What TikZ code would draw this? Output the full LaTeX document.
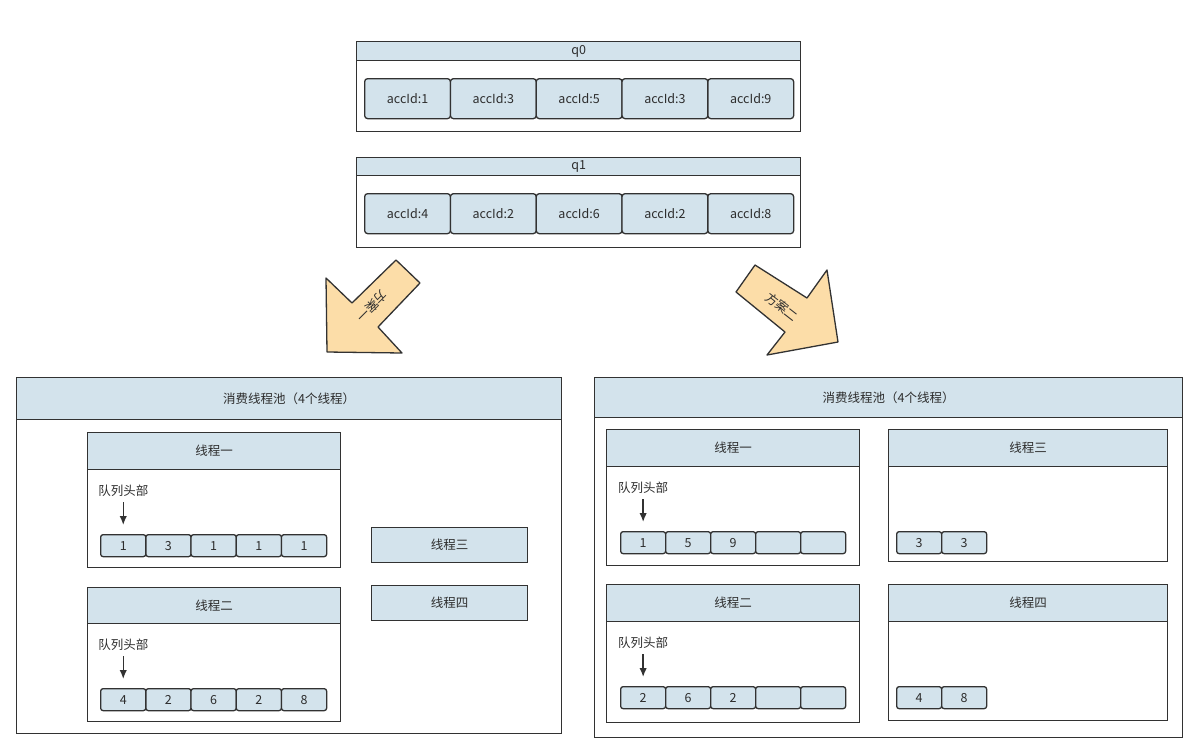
\documentclass[tikz,border=0pt]{standalone}
\usepackage{fontspec}
\setmainfont{Noto Sans CJK SC}
\usetikzlibrary{positioning,arrows.meta}

\definecolor{boxblue}{RGB}{211,227,236}
\definecolor{arrfill}{RGB}{252,221,168}
\definecolor{edge}{RGB}{50,50,50}
\definecolor{txt}{RGB}{45,45,45}

\tikzset{
  frame/.style={draw=edge, line width=1.3pt, anchor=north west, inner sep=0pt},
  hdr/.style={frame, fill=boxblue, text=txt, font=\fontsize{12.5}{14}\selectfont},
  cell/.style={hdr, rounded corners=2.5pt, minimum width=45pt, minimum height=22pt},
  qcell/.style={hdr, rounded corners=3pt, minimum width=85.8pt, minimum height=40pt},
  headlbl/.style={inner sep=0pt, text=txt, font=\fontsize{12.5}{14}\selectfont},
  headarr/.style={-{Latex[length=9pt,width=7.5pt]}, line width=1.5pt, draw=edge,
    shorten <=5pt, shorten >=9pt},
  bigarr/.style={draw=edge, line width=1.3pt, fill=arrfill, line join=round},
}

\begin{document}
\begin{tikzpicture}[x=1pt, y=-1pt]
    \useasboundingbox (0,0) rectangle (1203,748);

    % Queue q0
    \node[frame, minimum width=444pt, minimum height=90pt] (q0) at (356,41) {};
    \node[hdr, minimum width=444pt, minimum height=19pt] (q0h) at (356,41) {q0};
    \foreach \v [count=\i from 0] in {1,3,5,3,9}
        \node[qcell] (q0c\i) at ({364+85.8*\i},78) {accId:\v};

    % Queue q1
    \node[frame, minimum width=444pt, minimum height=90pt] (q1) at (356,157) {};
    \node[hdr, minimum width=444pt, minimum height=18pt] (q1h) at (356,157) {q1};
    \foreach \v [count=\i from 0] in {4,2,6,2,8}
        \node[qcell] (q1c\i) at ({364+85.8*\i},193) {accId:\v};

    % Plan arrows
    \draw[bigarr] (396,260) -- (420,283) -- (378,327) -- (402,353) -- (327,352)
        -- (326,278) -- (352,303) -- cycle;
    \node[headlbl, rotate=-135] (plan1) at (372,306) {方案一};
    \draw[bigarr] (755,265) -- (807,298) -- (827,270) -- (838,342) -- (767,355)
        -- (785,332) -- (736,292) -- cycle;
    \node[headlbl, rotate=-38] (plan2) at (782,307) {方案二};

    % Left pool (plan one)
    \node[frame, minimum width=545pt, minimum height=356pt] (lpool) at (16,377) {};
    \node[hdr, minimum width=545pt, minimum height=42pt] (lpoolh) at (16,377) {消费线程池（4个线程）};

    % thread one
    \node[frame, minimum width=253pt, minimum height=135pt] (lt1) at (87,432) {};
    \node[hdr, minimum width=253pt, minimum height=37pt] (lt1h) at (87,432) {线程一};
    \foreach \v [count=\i from 0] in {1,3,1,1,1}
        \node[cell, minimum width=45.2pt] (la\i) at ({100+45.2*\i},534) {\v};
    \node[headlbl, above=37pt of la0.north] (lq1) {队列头部};
    \draw[headarr] (lq1) -- (la0);

    % thread two
    \node[frame, minimum width=253pt, minimum height=134pt] (lt2) at (87,587) {};
    \node[hdr, minimum width=253pt, minimum height=36pt] (lt2h) at (87,587) {线程二};
    \foreach \v [count=\i from 0] in {4,2,6,2,8}
        \node[cell, minimum width=45.2pt] (lb\i) at ({100+45.2*\i},688) {\v};
    \node[headlbl, above=37pt of lb0.north] (lq2) {队列头部};
    \draw[headarr] (lq2) -- (lb0);

    % threads three and four
    \node[hdr, minimum width=156pt, minimum height=35pt] (lt3) at (371,527) {线程三};
    \node[hdr, minimum width=156pt, minimum height=35pt] (lt4) at (371,585) {线程四};

    % Right pool (plan two)
    \node[frame, minimum width=588pt, minimum height=360pt] (rpool) at (594,377) {};
    \node[hdr, minimum width=588pt, minimum height=40pt] (rpoolh) at (594,377) {消费线程池（4个线程）};

    % thread one
    \node[frame, minimum width=253pt, minimum height=136pt] (rt1) at (606,429) {};
    \node[hdr, minimum width=253pt, minimum height=37pt] (rt1h) at (606,429) {线程一};
    \foreach \v [count=\i from 0] in {1,5,9,{},{}}
        \node[cell] (ra\i) at ({620+45*\i},531) {\v};
    \node[headlbl, above=37pt of ra0.north] (rq1) {队列头部};
    \draw[headarr] (rq1) -- (ra0);

    % thread two
    \node[frame, minimum width=253pt, minimum height=138pt] (rt2) at (606,584) {};
    \node[hdr, minimum width=253pt, minimum height=37pt] (rt2h) at (606,584) {线程二};
    \foreach \v [count=\i from 0] in {2,6,2,{},{}}
        \node[cell] (rb\i) at ({620+45*\i},686) {\v};
    \node[headlbl, above=37pt of rb0.north] (rq2) {队列头部};
    \draw[headarr] (rq2) -- (rb0);

    % thread three
    \node[frame, minimum width=279pt, minimum height=132pt] (rt3) at (888,429) {};
    \node[hdr, minimum width=279pt, minimum height=37pt] (rt3h) at (888,429) {线程三};
    \foreach \v [count=\i from 0] in {3,3}
        \node[cell] (rc\i) at ({896+45*\i},531) {\v};

    % thread four
    \node[frame, minimum width=279pt, minimum height=136pt] (rt4) at (888,584) {};
    \node[hdr, minimum width=279pt, minimum height=37pt] (rt4h) at (888,584) {线程四};
    \foreach \v [count=\i from 0] in {4,8}
        \node[cell] (rd\i) at ({896+45*\i},686) {\v};
\end{tikzpicture}
\end{document}
